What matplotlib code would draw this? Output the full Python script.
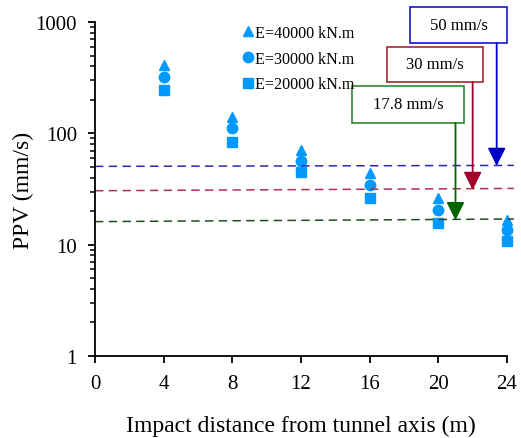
import matplotlib.pyplot as plt
from matplotlib.patches import Rectangle
from matplotlib.ticker import LogLocator, NullFormatter, FixedLocator

plt.rcParams['font.family'] = ['Liberation Serif', 'DejaVu Serif']

distance = [4, 8, 12, 16, 20, 24]
ppv_40000 = [411, 140, 71, 44, 26, 16.7]
ppv_30000 = [321, 112, 56.5, 34.4, 20.5, 13.6]
ppv_20000 = [245, 84, 45, 26.3, 15.7, 10.8]

# threshold lines (slightly sloped in the original)
line_x = [0, 24.4]
limit_50 = [50.5, 51.5]
limit_30 = [30.5, 32.0]
limit_17 = [16.1, 17.0]

fig = plt.figure(figsize=(5.21, 4.39), dpi=100)
ax = fig.add_axes([0.1823, 0.1868, 0.7908, 0.7608])

col = '#0099FF'
ax.plot(distance, ppv_40000, '^', color=col, markersize=7.5, label='E=40000 kN.m', clip_on=False)
ax.plot(distance, ppv_30000, 'o', color=col, markersize=7.5, label='E=30000 kN.m', clip_on=False)
ax.plot(distance, ppv_20000, 's', color=col, markersize=7, label='E=20000 kN.m', clip_on=False)

ax.plot(line_x, limit_50, '--', color='#2a2ab0', lw=1.1, dashes=(5.5, 3.5), clip_on=False)
ax.plot(line_x, limit_30, '--', color='#b0304f', lw=1.1, dashes=(5.5, 3.5), clip_on=False)
ax.plot(line_x, limit_17, '--', color='#1f4d1f', lw=1.1, dashes=(5.5, 3.5), clip_on=False)

ax.set_yscale('log')
ax.set_ylim(1, 1000)
ax.set_xlim(0, 24)
ax.xaxis.set_major_locator(FixedLocator([0, 4, 8, 12, 16, 20, 24]))
ax.yaxis.set_major_locator(FixedLocator([1, 10, 100, 1000]))
ax.set_yticklabels(['1', '10', '100', '1000'])
ax.yaxis.set_minor_locator(LogLocator(base=10, subs=range(2, 10)))
ax.yaxis.set_minor_formatter(NullFormatter())

for s in ['top', 'right']:
    ax.spines[s].set_visible(False)
for s in ['left', 'bottom']:
    ax.spines[s].set_linewidth(1.3)
ax.tick_params(axis='both', which='major', direction='out', length=5, width=1.3, labelsize=15, colors='black')
ax.tick_params(axis='y', which='minor', direction='out', length=3.5, width=1.1)
ax.tick_params(axis='x', pad=8)
ax.tick_params(axis='y', pad=8)

ax.set_xlabel('Impact distance from tunnel axis (m)', fontsize=17, labelpad=16)
ax.set_ylabel('PPV (mm/s)', fontsize=17, labelpad=1)

ax.legend(loc='upper left', bbox_to_anchor=(0.318, 1.02), frameon=False, fontsize=11.6,
          handletextpad=-0.3, labelspacing=0.6, borderaxespad=0.2, handlelength=1.5)

# annotation boxes: (x0, x1, y_bottom, y_top, arrow_x, arrow_tip, colour, text)
boxes = [
    (18.35, 24.0, 649, 1367, 23.4, 51, '#0000CC', '50 mm/s'),
    (17.0, 22.6, 290, 597, 22.0, 31, '#A0102A', '30 mm/s'),
    (15.0, 21.5, 124, 267, 21.0, 16.6, '#1E7A1E', '17.8 mm/s'),
]
arrow_cols = ['#0000CC', '#A0002A', '#006400']
for (x0, x1, yb, yt, axx, tip, c, txt), ac in zip(boxes, arrow_cols):
    ax.add_patch(Rectangle((x0, yb), x1 - x0, yt - yb, facecolor='white', edgecolor=c,
                           lw=1.1, clip_on=False, zorder=5))
    ax.text((x0 + x1) / 2, (yb * yt) ** 0.5, txt, ha='center', va='center', fontsize=12,
            zorder=6, clip_on=False)
    ax.annotate('', xy=(axx, tip), xytext=(axx, yb),
                arrowprops=dict(arrowstyle='-|>,head_length=1.1,head_width=0.55', color=ac,
                                lw=1.3, shrinkA=0, shrinkB=0), zorder=6, annotation_clip=False)

fig.savefig('out.png', dpi=100)
